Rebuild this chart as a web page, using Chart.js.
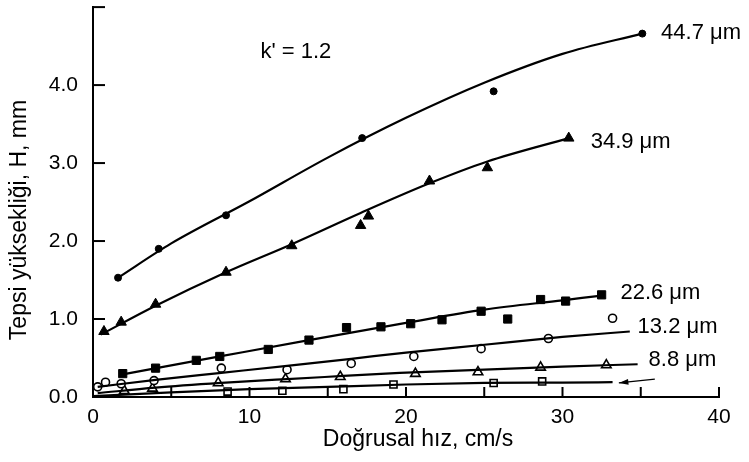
<!DOCTYPE html>
<html>
<head>
<meta charset="utf-8">
<script src="https://cdn.jsdelivr.net/npm/chart.js@4.4.0/dist/chart.umd.min.js"></script>
<style>
  html, body { margin: 0; padding: 0; background: #fff; }
</style>
</head>
<body>
<canvas id="myChart" width="749" height="462"></canvas>
<script>
const ctx = document.querySelector("#myChart").getContext("2d");

const v447 = [1.6, 4.2, 8.5, 17.2, 25.6, 35.1];
const h447 = [1.53, 1.90, 2.33, 3.32, 3.92, 4.66];
const v349 = [0.7, 1.8, 4.0, 8.5, 12.7, 17.1, 17.6, 21.5, 25.2, 30.4];
const h349 = [0.84, 0.96, 1.19, 1.60, 1.94, 2.20, 2.32, 2.77, 2.94, 3.32];
const v226 = [1.9, 4.0, 6.6, 8.1, 11.2, 13.8, 16.2, 18.4, 20.3, 22.3, 24.8, 26.5, 28.6, 30.2, 32.5];
const h226 = [0.30, 0.37, 0.47, 0.52, 0.61, 0.73, 0.89, 0.90, 0.94, 0.99, 1.10, 1.00, 1.25, 1.23, 1.31];
const v132 = [0.3, 0.8, 1.8, 3.9, 8.2, 12.4, 16.5, 20.5, 24.8, 29.1, 33.2];
const h132 = [0.13, 0.19, 0.17, 0.21, 0.37, 0.35, 0.43, 0.52, 0.62, 0.75, 1.01];
const v88 = [2.0, 3.8, 8.0, 12.3, 15.8, 20.6, 24.6, 28.6, 32.8];
const h88 = [0.08, 0.11, 0.18, 0.23, 0.26, 0.30, 0.32, 0.38, 0.41];
const vSq = [8.6, 12.1, 16.0, 19.2, 25.6, 28.7];
const hSq = [0.07, 0.08, 0.10, 0.16, 0.18, 0.20];

// fitted curves, also
const fitV447 = [1.6, 5, 10, 15, 20, 25, 30, 35.1];
const fitH447 = [1.53, 1.97, 2.51, 3.07, 3.58, 4.03, 4.40, 4.66];
const fitV349 = [0.5, 4, 8.5, 12.7, 17.1, 21.5, 25.2, 30.4];
const fitH349 = [0.80, 1.17, 1.60, 1.96, 2.36, 2.74, 3.02, 3.32];
const fitV226 = [1.9, 8.1, 13.8, 20, 25, 30, 32.5];
const fitH226 = [0.29, 0.52, 0.73, 0.95, 1.12, 1.24, 1.30];
const fitV132 = [0.3, 4, 8.2, 12.4, 16.5, 20, 25, 30, 34.3];
const fitH132 = [0.13, 0.22, 0.31, 0.40, 0.49, 0.57, 0.67, 0.77, 0.84];
const fitV88 = [0.3, 4, 8.2, 12.4, 16, 19.6, 25, 30, 34.8];
const fitH88 = [0.05, 0.12, 0.18, 0.23, 0.27, 0.31, 0.35, 0.39, 0.42];
const fitVSq = [0, 5, 10, 15, 20, 25, 30, 33.2];
const fitHSq = [0.01, 0.06, 0.10, 0.13, 0.16, 0.18, 0.185, 0.19];

const curveLabels = ["44.7 \u03bcm", "34.9 \u03bcm", "22.6 \u03bcm", "13.2 \u03bcm", "8.8 \u03bcm"];
const labelX = [36.3, 31.8, 33.7, 34.8, 35.5];
const labelH = [4.67, 3.27, 1.33, 0.90, 0.48];
const arrowFrom = [35.9, 0.23];
const arrowTo = [33.6, 0.18];

const xTicks = [0, 5, 10, 15, 20, 25, 30, 35, 40];
const yTicks = [0, 1, 2, 3, 4, 5];

const FONT = "'Liberation Sans', Arial, sans-serif";

const pts = (xs, ys) => xs.map((x, i) => ({ x: x, y: ys[i] }));

function curve(xs, ys) {
  return {
    data: pts(xs, ys),
    showLine: true,
    borderColor: "#000",
    borderWidth: 2.2,
    pointRadius: 0,
    cubicInterpolationMode: "monotone",
  };
}

function marks(xs, ys, style, radius, filled) {
  return {
    data: pts(xs, ys),
    showLine: false,
    pointStyle: style,
    pointRadius: radius,
    pointBackgroundColor: filled ? "#000" : "#fff",
    pointBorderColor: "#000",
    pointBorderWidth: filled ? 1 : 1.6,
  };
}

const datasets = [
  curve(fitV447, fitH447),
  curve(fitV349, fitH349),
  curve(fitV226, fitH226),
  curve(fitV132, fitH132),
  curve(fitV88, fitH88),
  curve(fitVSq, fitHSq),
  marks(v447, h447, "circle", 3.5, true),
  marks(v349, h349, "triangle", 6, true),
  marks(v226, h226, "rect", 5.8, true),
  marks(v132, h132, "circle", 4, false),
  marks(v88, h88, "triangle", 5.5, false),
  marks(vSq, hSq, "rect", 5, false),
];

// inward ticks, curve labels, arrow and both axis titles
const extras = {
  id: "extras",
  afterDraw(chart) {
    const { ctx, scales: { x, y }, chartArea } = chart;
    ctx.save();
    ctx.strokeStyle = "#000";
    ctx.fillStyle = "#000";
    ctx.lineWidth = 2;
    xTicks.forEach((t) => {
      const px = x.getPixelForValue(t);
      ctx.beginPath();
      ctx.moveTo(px, chartArea.bottom);
      ctx.lineTo(px, chartArea.bottom - 10);
      ctx.stroke();
    });
    yTicks.forEach((t) => {
      const py = y.getPixelForValue(t);
      ctx.beginPath();
      ctx.moveTo(chartArea.left, py);
      ctx.lineTo(chartArea.left + 12, py);
      ctx.stroke();
    });

    ctx.font = "22px " + FONT;
    ctx.textAlign = "left";
    ctx.textBaseline = "middle";
    curveLabels.forEach((s, i) => {
      ctx.fillText(s, x.getPixelForValue(labelX[i]), y.getPixelForValue(labelH[i]));
    });
    ctx.fillText("k' = 1.2", x.getPixelForValue(10.7), y.getPixelForValue(4.42));

    // arrow to the unlabelled curve
    const x1 = x.getPixelForValue(arrowFrom[0]), y1 = y.getPixelForValue(arrowFrom[1]);
    const x2 = x.getPixelForValue(arrowTo[0]), y2 = y.getPixelForValue(arrowTo[1]);
    ctx.lineWidth = 1.2;
    ctx.beginPath();
    ctx.moveTo(x1, y1);
    ctx.lineTo(x2, y2);
    ctx.stroke();
    const a = Math.atan2(y2 - y1, x2 - x1);
    ctx.beginPath();
    ctx.moveTo(x2, y2);
    ctx.lineTo(x2 - 10 * Math.cos(a - 0.3), y2 - 10 * Math.sin(a - 0.3));
    ctx.lineTo(x2 - 10 * Math.cos(a + 0.3), y2 - 10 * Math.sin(a + 0.3));
    ctx.closePath();
    ctx.fill();

    ctx.font = "23px " + FONT;
    ctx.textAlign = "center";
    ctx.fillText("Do\u011frusal h\u0131z, cm/s", 418, 440);

    ctx.translate(20, 220);
    ctx.rotate(-Math.PI / 2);
    ctx.fillText("Tepsi y\u00fcksekli\u011fi, H, mm", 0, 0);
    ctx.restore();
  },
};

const config = {
  type: "scatter",
  data: { datasets },
  options: {
    responsive: false,
    animation: false,
    layout: { padding: { left: 0, right: 30, top: 4, bottom: 0 } },
    plugins: {
      legend: { display: false },
      tooltip: { enabled: false },
    },
    scales: {
      x: {
        type: "linear",
        min: 0,
        max: 40,
        afterFit: (s) => {
          s.height = 65;
          s.paddingLeft = 0;
          s.paddingRight = 0;
        },
        afterBuildTicks: (s) => { s.ticks = xTicks.map((v) => ({ value: v })); },
        grid: { drawOnChartArea: false, drawTicks: false },
        border: { color: "#000", width: 2 },
        ticks: {
          autoSkip: false,
          maxRotation: 0,
          padding: 8,
          color: "#000",
          font: { family: FONT, size: 21 },
          callback: (v) => (v % 10 === 0 ? v : ""),
        },
      },
      y: {
        type: "linear",
        min: 0,
        max: 5,
        afterFit: (s) => {
          s.width = 93;
          s.paddingTop = 0;
          s.paddingBottom = 0;
        },
        afterBuildTicks: (s) => { s.ticks = yTicks.map((v) => ({ value: v })); },
        grid: { drawOnChartArea: false, drawTicks: false },
        border: { color: "#000", width: 2 },
        ticks: {
          padding: 15,
          color: "#000",
          font: { family: FONT, size: 21 },
          callback: (v) => (v < 5 ? v.toFixed(1) : ""),
        },
      },
    },
  },
  plugins: [extras],
};

const myChart = new Chart(ctx, config);
</script>
</body>
</html>
